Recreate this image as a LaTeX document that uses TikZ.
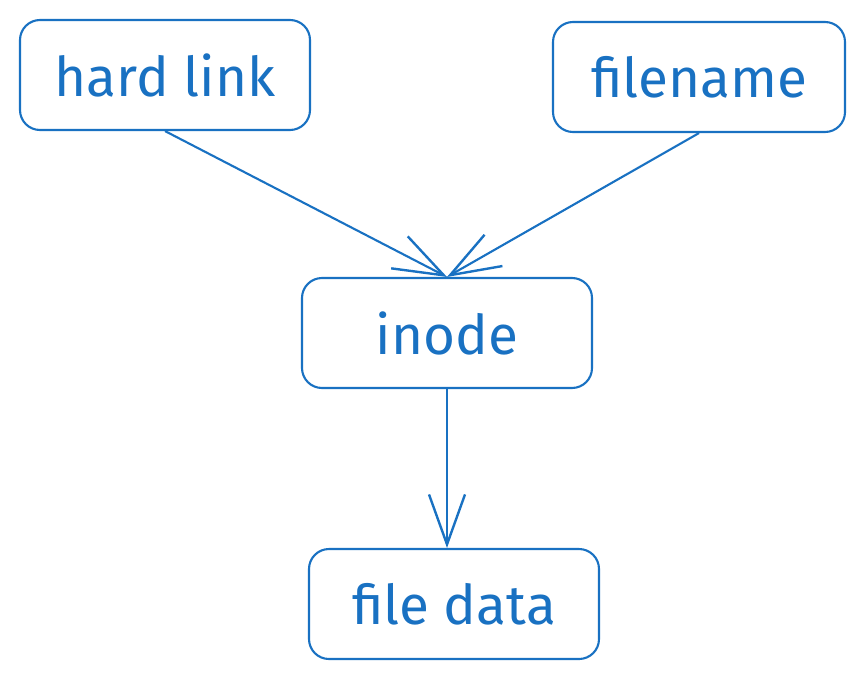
\documentclass[tikz,border=0pt]{standalone}
\usepackage{fontspec}
\setmainfont{Fira Sans}
\usepackage{xcolor}
\usetikzlibrary{arrows.meta,positioning}
\definecolor{myblue}{HTML}{1971C2}
\tikzstyle{box} = [draw=myblue,line width=1.5pt,rounded corners=0.5cm,minimum width=7.25cm,minimum height=2.75cm,text=myblue,font=\fontsize{39}{45}\selectfont]
\tikzstyle{arrow} = [draw=myblue,line width=1.5pt,-{Straight Barb[length=1.25cm,width=0.9cm,line width=1.7pt]}]

\begin{document}
\begin{tikzpicture}
            % frame
            \useasboundingbox (0,0) rectangle (21.6,-17.025);
            % boxes
            \node[box] (hardlink) at (4.125,-1.875) {hard link};
            \node[box,minimum width=7.3cm] (filename) at (17.475,-1.925) {filename};
            \node[box] (inode) at (11.175,-8.325) {inode};
            \node[box] (filedata) at (11.35,-15.1) {file data};
            % links
            \draw [arrow] (hardlink.south) -- (inode.north);
            \draw [arrow] (filename.south) -- (inode.north);
            \draw [arrow] (inode.south) -- (inode.south |- filedata.north);
        \end{tikzpicture}
\end{document}
